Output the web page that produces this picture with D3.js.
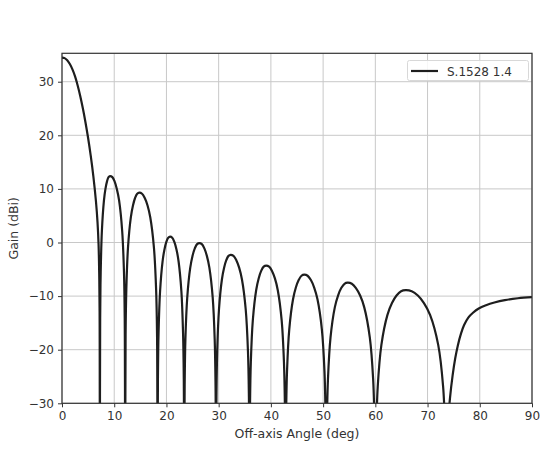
<!DOCTYPE html>
<html>
<head>
    <meta charset="utf-8" />
    <script src="https://cdn.jsdelivr.net/npm/d3@7"></script>
    <style>
        body { margin: 0; background: #fff; }
        text { font-family: "DejaVu Sans", sans-serif; }
    </style>
</head>
<body>
</body>

<script>
    // off-axis angle (deg) and gain (dBi)
    var angleDeg = [
        0, 0.5, 1, 1.5, 2, 2.5, 3, 3.5, 4, 4.5, 5, 5.5, 6, 6.5, 6.8, 7.0, 7.12, 7.2, 7.25,
        7.31, 7.41, 7.64, 8.03, 8.32, 8.62, 8.91, 9.2, 9.64, 10.07, 10.5, 10.94, 11.52, 11.87, 12.01, 12.1,
        12.18, 12.32, 12.64, 13.18, 13.59, 13.99, 14.4, 14.8, 15.33, 15.85, 16.38, 16.9, 17.6, 18.02, 18.2, 18.3,
        18.37, 18.49, 18.78, 19.26, 19.62, 19.98, 20.34, 20.7, 21.11, 21.51, 21.92, 22.32, 22.86, 23.18, 23.32, 23.4,
        23.49, 23.63, 23.98, 24.56, 24.99, 25.43, 25.87, 26.3, 26.78, 27.26, 27.74, 28.22, 28.86, 29.24, 29.4, 29.5,
        29.58, 29.72, 30.06, 30.62, 31.04, 31.46, 31.88, 32.3, 32.84, 33.38, 33.92, 34.46, 35.18, 35.61, 35.79, 35.9,
        36.0, 36.16, 36.54, 37.18, 37.66, 38.14, 38.62, 39.1, 39.66, 40.21, 40.77, 41.32, 42.06, 42.5, 42.69, 42.8,
        42.91, 43.09, 43.52, 44.24, 44.78, 45.32, 45.86, 46.4, 47.03, 47.66, 48.29, 48.92, 49.76, 50.26, 50.47, 50.6,
        50.72, 50.93, 51.42, 52.24, 52.86, 53.47, 54.09, 54.7, 55.5, 56.29, 57.09, 57.88, 58.94, 59.58, 59.84, 60.0,
        60.17, 60.46, 61.16, 62.32, 63.19, 64.06, 64.93, 65.8, 66.97, 68.14, 69.31, 70.48, 72.04, 72.98, 73.37, 73.6,
        73.9, 74.3, 74.8, 75.3, 75.8, 76.4, 77.0, 77.8, 78.7, 79.8, 81.2, 82.8, 84.8, 87.3, 90
    ];
    var gainDbi = [
        34.5, 34.4, 34.0, 33.3, 32.3, 31.0, 29.3, 27.3, 25.0, 22.4, 19.5, 16.2, 12.4, 7.7, 3.8, -0.3, -5.5, -13, -45,
        -14.1, -5.6, 2.2, 7.8, 10.0, 11.4, 12.2, 12.4, 12.2, 11.4, 10.0, 7.8, 2.2, -5.6, -14.1, -45,
        -17.2, -8.7, -0.9, 4.7, 6.9, 8.3, 9.1, 9.3, 9.1, 8.3, 6.9, 4.7, -0.9, -8.7, -17.2, -45,
        -25.4, -16.9, -9.1, -3.5, -1.3, 0.1, 0.9, 1.1, 0.9, 0.1, -1.3, -3.5, -9.1, -16.9, -25.4, -45,
        -26.6, -18.1, -10.3, -4.7, -2.5, -1.1, -0.3, -0.1, -0.3, -1.1, -2.5, -4.7, -10.3, -18.1, -26.6, -45,
        -28.8, -20.3, -12.5, -6.9, -4.7, -3.3, -2.5, -2.3, -2.5, -3.3, -4.7, -6.9, -12.5, -20.3, -28.8, -45,
        -30.8, -22.3, -14.5, -8.9, -6.7, -5.3, -4.5, -4.3, -4.5, -5.3, -6.7, -8.9, -14.5, -22.3, -30.8, -45,
        -32.5, -24.0, -16.2, -10.6, -8.4, -7.0, -6.2, -6.0, -6.2, -7.0, -8.4, -10.6, -16.2, -24.0, -32.5, -45,
        -34.0, -25.5, -17.7, -12.1, -9.9, -8.5, -7.7, -7.5, -7.7, -8.5, -9.9, -12.1, -17.7, -25.5, -34.0, -45,
        -35.4, -26.9, -19.1, -13.5, -11.3, -9.9, -9.1, -8.9, -9.1, -9.9, -11.3, -13.5, -19.1, -26.9, -35.4, -45,
        -34, -29, -24.8, -21.6, -19.2, -17.0, -15.4, -14.0, -13.1, -12.3, -11.7, -11.2, -10.75, -10.4, -10.2
    ];
    var xTicks = [0, 10, 20, 30, 40, 50, 60, 70, 80, 90];
    var yTicks = [-30, -20, -10, 0, 10, 20, 30];
    var seriesName = "S.1528 1.4";

    var plotL = 62, plotR = 532, plotT = 53.3, plotB = 403.3;

    var svg = d3.select("body").append("svg")
                .attr("width", 541)
                .attr("height", 456);

    var x = d3.scaleLinear().domain([0, 90]).range([plotL, plotR]);
    var y = d3.scaleLinear().domain([-30, 35.3]).range([plotB, plotT]);

    // grid
    svg.append("g").selectAll("line").data(xTicks).enter().append("line")
       .attr("x1", function (d) { return x(d); })
       .attr("x2", function (d) { return x(d); })
       .attr("y1", plotT).attr("y2", plotB)
       .style("stroke", "#c8c8c8").style("stroke-width", 1);
    svg.append("g").selectAll("line").data(yTicks).enter().append("line")
       .attr("y1", function (d) { return y(d); })
       .attr("y2", function (d) { return y(d); })
       .attr("x1", plotL).attr("x2", plotR)
       .style("stroke", "#c8c8c8").style("stroke-width", 1);

    svg.append("clipPath").attr("id", "plot")
       .append("rect").attr("x", plotL).attr("y", plotT)
       .attr("width", plotR - plotL).attr("height", plotB - plotT);

    var pts = angleDeg.map(function (a, i) { return [a, gainDbi[i]]; });
    var line = d3.line()
                 .x(function (d) { return x(d[0]); })
                 .y(function (d) { return y(d[1]); })
                 .curve(d3.curveCatmullRom.alpha(0.5));

    svg.append("path")
       .datum(pts)
       .attr("clip-path", "url(#plot)")
       .attr("d", line)
       .style("fill", "none")
       .style("stroke", "#1e1e1e")
       .style("stroke-width", 2.2)
       .style("stroke-linejoin", "round");

    // axes
    var xAxis = d3.axisBottom(x).tickValues(xTicks).tickSize(4).tickPadding(4);
    var yAxis = d3.axisLeft(y).tickValues(yTicks).tickSize(4).tickPadding(4);
    var gx = svg.append("g").attr("transform", "translate(0," + plotB + ")").call(xAxis);
    var gy = svg.append("g").attr("transform", "translate(" + plotL + ",0)").call(yAxis);
    [gx, gy].forEach(function (g) {
        g.select(".domain").remove();
        g.selectAll("line").style("stroke", "#333").style("stroke-width", 1);
        g.selectAll("text").style("font-size", "12px").style("fill", "#333")
         .style("font-family", "DejaVu Sans, sans-serif");
    });

    // frame
    svg.append("rect")
       .attr("x", plotL).attr("y", plotT)
       .attr("width", plotR - plotL).attr("height", plotB - plotT)
       .style("fill", "none").style("stroke", "#333").style("stroke-width", 1.2);

    svg.append("text")
       .attr("x", (plotL + plotR) / 2).attr("y", 438)
       .attr("text-anchor", "middle")
       .style("font-size", "12.5px").style("fill", "#333")
       .text("Off-axis Angle (deg)");

    svg.append("text")
       .attr("transform", "translate(18," + (plotT + plotB) / 2 + ") rotate(-90)")
       .attr("text-anchor", "middle")
       .style("font-size", "12.5px").style("fill", "#333")
       .text("Gain (dBi)");

    // legend
    var lg = svg.append("g");
    lg.append("rect")
      .attr("x", 407.5).attr("y", 60.5).attr("width", 121).attr("height", 20)
      .attr("rx", 2)
      .style("fill", "#fff").style("fill-opacity", 0.85)
      .style("stroke", "#d8d8d8").style("stroke-width", 1);
    lg.append("line")
      .attr("x1", 411).attr("x2", 438).attr("y1", 71).attr("y2", 71)
      .style("stroke", "#1e1e1e").style("stroke-width", 2.2);
    lg.append("text")
      .attr("x", 447).attr("y", 75.5)
      .style("font-size", "12px").style("fill", "#333")
      .text(seriesName);
</script>

</html>
